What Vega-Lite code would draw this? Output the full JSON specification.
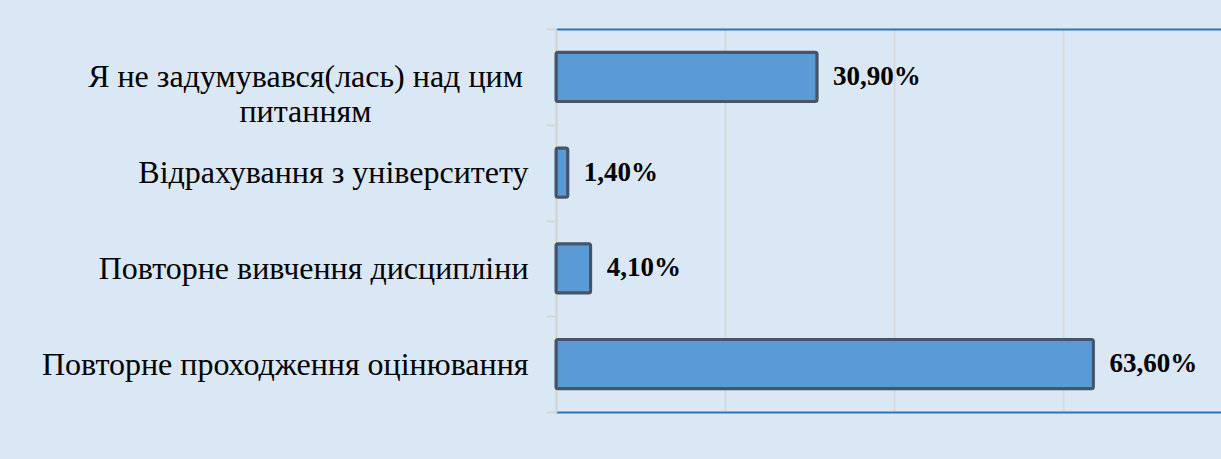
{
  "$schema": "https://vega.github.io/schema/vega-lite/v6.json",
  "autosize": {"type": "none"},
  "padding": {"left": 556, "top": 29, "right": 0, "bottom": 47},
  "width": 665,
  "height": 383,
  "background": "#dae7f5",
  "config": {
    "locale": {"number": {"decimal": ",", "thousands": " ", "grouping": [3], "currency": ["", " грн"]}},
    "view": {"stroke": null}
  },
  "data": {
    "values": [
      {"answer": "Я не задумувався(лась) над цим питанням", "share": 0.309},
      {"answer": "Відрахування з університету", "share": 0.014},
      {"answer": "Повторне вивчення дисципліни", "share": 0.041},
      {"answer": "Повторне проходження оцінювання", "share": 0.636}
    ]
  },
  "encoding": {
    "y": {
      "field": "answer",
      "type": "nominal",
      "sort": null,
      "scale": {"paddingInner": 0, "paddingOuter": 0},
      "axis": {
        "title": null,
        "tickBand": "extent",
        "tickSize": 10,
        "tickColor": "#d4d4d4",
        "tickWidth": 2,
        "domainColor": "#d4d4d4",
        "domainWidth": 2,
        "labelFont": "Liberation Serif",
        "labelFontSize": 32,
        "labelColor": "#000000",
        "labelLimit": 1000,
        "labelBaseline": "middle",
        "labelLineHeight": 35,
        "labelAlign": {"condition": {"test": "datum.value == 'Я не задумувався(лась) над цим питанням'", "value": "center"}, "value": "right"},
        "labelPadding": {"condition": {"test": "datum.value == 'Я не задумувався(лась) над цим питанням'", "value": 241}, "value": 18},
        "labelExpr": "datum.value == 'Я не задумувався(лась) над цим питанням' ? ['Я не задумувався(лась) над цим', 'питанням'] : datum.label"
      }
    }
  },
  "layer": [
    {
      "mark": {"type": "bar", "height": {"band": 0.515}, "fill": "#5b9bd5", "stroke": "#44546a", "strokeWidth": 3, "cornerRadius": 2},
      "encoding": {
        "x": {
          "field": "share",
          "type": "quantitative",
          "scale": {"domain": [0, 0.787], "nice": false},
          "axis": {"orient": "bottom", "title": null, "labels": false, "ticks": false, "domainColor": "#2e75b6", "domainWidth": 2, "grid": true, "gridColor": "#d9d9d9", "gridWidth": 2, "values": [0, 0.2, 0.4, 0.6]}
        }
      }
    },
    {
      "mark": {"type": "text", "align": "left", "baseline": "middle", "dx": 16, "fontWeight": "bold", "fontSize": 27, "font": "Liberation Serif", "color": "#000000"},
      "encoding": {
        "x": {
          "field": "share",
          "type": "quantitative",
          "axis": {"orient": "top", "title": null, "labels": false, "ticks": false, "grid": false, "domainColor": "#2e75b6", "domainWidth": 2}
        },
        "text": {"field": "share", "type": "quantitative", "format": ".2%"}
      }
    }
  ],
  "resolve": {"axis": {"x": "independent"}}
}
